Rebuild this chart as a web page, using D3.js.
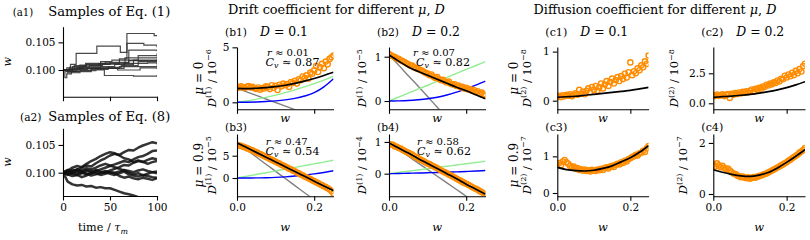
<!DOCTYPE html>
<html><head><meta charset="utf-8">
<script src="https://cdn.jsdelivr.net/npm/d3@7"></script>
<style>body{margin:0;background:#fff} svg{display:block} text{white-space:pre}</style>
</head><body><svg id="c" width="810" height="240"></svg>
<script>
// ---------------- DATA ----------------
// (a1) jump-process samples: [time, w]
const a1S1 = [[0,.1000],[4,.1004],[8,.1010],[14,.1030],[36,.1043],[61,.1032],[68,.1066],[97,.1062],[100,.1062]];
const a1S2 = [[0,.1000],[6,.0998],[14,.1004],[28,.1008],[42,.1011],[60,.1020],[68,.1048],[86,.1045],[100,.1041]];
const a1S3 = [[0,.1000],[10,.1006],[25,.1010],[50,.1013],[70,.1036],[100,.1034]];
const a1S4 = [[0,.1000],[15,.1003],[40,.1006],[55,.1010],[75,.1018],[100,.1020]];
const a1S5 = [[0,.1000],[10,.0997],[30,.1001],[48,.1005],[62,.1008],[80,.1015],[100,.1016]];
const a1S6 = [[0,.1000],[8,.1002],[20,.1005],[38,.1003],[65,.1012],[90,.1013],[100,.1010]];
const a1S7 = [[0,.1000],[5,.0995],[18,.0999],[35,.1000],[44,.0990],[75,.0989],[100,.0991]];
const a1S8 = [[0,.1000],[12,.1008],[24,.1012],[45,.1014],[70,.1017],[100,.1015]];
const a1S9 = [[0,.1000],[2,.0986],[4,.0993],[9,.1000],[30,.1004],[58,.1000],[82,.1004],[100,.1002]];
const a1S10 = [[0,.1000],[7,.1005],[22,.1007],[40,.1015],[52,.1018],[80,.1026],[100,.1030]];
const a1S11 = [[0,.1000],[3,.0997],[16,.1001],[26,.1003],[60,.1006],[100,.1008]];
const a1S12 = [[0,.1000],[6,.1002],[18,.1009],[38,.1011],[66,.1022],[100,.1024]];
const a1Samples = [a1S1,a1S2,a1S3,a1S4,a1S5,a1S6,a1S7,a1S8,a1S9,a1S10,a1S11,a1S12];

// (a2) diffusion samples
const a2Time = [0,5,10,15,20,25,30,35,40,45,50,55,60,65,70,75,80,85,90,95,100];
const a2A = [.1000,.1003,.1001,.1006,.1009,.1013,.1011,.1017,.1022,.1026,.1031,.1034,.1032,.1037,.1041,.1040,.1045,.1049,.1052,.1055,.1053];
const a2B = [.1000,.1004,.1009,.1012,.1010,.1016,.1021,.1025,.1030,.1034,.1037,.1035,.1031,.1026,.1024,.1019,.1022,.1020,.1016,.1019,.1021];
const a2C = [.1000,.0984,.0979,.0977,.0978,.0975,.0976,.0973,.0974,.0972,.0972,.0969,.0966,.0963,.0961,.0959,.0956,.0953,.0951,.0949,.0947];
const a2D = [.1000,.1002,.0998,.0996,.0999,.1003,.1001,.1005,.1002,.1000,.1004,.1007,.1010,.1014,.1013,.1018,.1021,.1019,.1023,.1026,.1024];
const a2E = [.1000,.0997,.0994,.0996,.0992,.0995,.0999,.1002,.1000,.1003,.1001,.1000,.1002,.1005,.1003,.1001,.1004,.1006,.1003,.1001,.1002];
const a2F = [.1000,.1005,.1002,.0999,.1001,.0998,.0995,.0997,.0999,.1001,.0998,.0996,.0999,.1002,.0997,.0995,.0993,.0996,.0994,.0992,.0991];
const a2G = [.1000,.0998,.1002,.1006,.1004,.1008,.1006,.1009,.1013,.1016,.1013,.1010,.1007,.1004,.1000,.0997,.0999,.0995,.0998,.1001,.0999];
const a2H = [.1000,.1001,.1005,.1003,.1000,.0997,.0999,.1003,.1006,.1009,.1012,.1015,.1018,.1021,.1019,.1024,.1028,.1030,.1034,.1039,.1040];
const a2I = [.1000,.0996,.0999,.1004,.1002,.1005,.1003,.0999,.0996,.0998,.1001,.0999,.0994,.0991,.0993,.0990,.0988,.0991,.0989,.0987,.0990];
const a2Samples = [a2A,a2B,a2C,a2D,a2E,a2F,a2G,a2H,a2I];

// w grids
const wPts = [0,.005,.01,.015,.02,.025,.03,.035,.04,.045,.05,.055,.06,.065,.07,.075,.08,.085,.09,.095,.1,.105,.11,.115,.12,.125,.13,.135,.14,.145,.15,.155,.16,.165,.17,.175,.18,.185,.19,.195,.2,.205,.21,.215,.22,.225,.23,.235,.24,.245,.25];
const wCurve = [0,.025,.05,.075,.1,.125,.15,.175,.2,.225,.25];

// (b1) drift, mu=0, D=0.1  [1e-6]
const b1Est = [1.40,1.32,1.45,1.38,1.30,1.42,1.48,1.35,1.40,1.28, 1.22,1.35,1.15,1.30,1.25,1.45,1.38,1.20,1.55,1.32, 1.50,1.12,1.60,1.45,1.70,1.55,1.65,1.40,1.85,1.75, 1.95,1.70,2.10,2.00,2.35,2.20,2.45,2.15,2.70,2.60, 2.90,3.30,2.75,3.20,3.50,3.10,3.70,3.45,3.95,4.10,4.25];
const b1Total = [1.27,1.25,1.28,1.33,1.42,1.55,1.72,1.93,2.17,2.44,2.73];
const b1Green = [0,0.12,0.27,0.45,0.65,0.88,1.13,1.40,1.70,2.02,2.36];
const b1Blue = [0,0.01,0.03,0.07,0.13,0.22,0.36,0.57,0.87,1.40,2.15];
const b1Gray = [1.27,0.95,0.63,0.30,-0.02,-0.34,-0.66,-0.98,-1.31,-1.63,-1.95];
// (b2) drift, mu=0, D=0.2  [1e-5]
const b2Est = [1.06,1.03,1.01,0.99,0.96,0.95,0.92,0.90,0.88,0.85, 0.83,0.80,0.80,0.76,0.74,0.73,0.70,0.69,0.66,0.63, 0.62,0.58,0.60,0.55,0.52,0.54,0.49,0.47,0.48,0.44, 0.42,0.44,0.39,0.37,0.38,0.34,0.35,0.31,0.32,0.28, 0.30,0.26,0.27,0.23,0.25,0.20,0.22,0.17,0.19,0.15,0.12];
const b2Total = [1.04,0.90,0.77,0.67,0.58,0.49,0.40,0.31,0.23,0.14,0.05];
const b2Green = [0,0.089,0.178,0.267,0.356,0.445,0.534,0.623,0.712,0.801,0.89];
const b2Blue = [0,0.004,0.012,0.028,0.05,0.085,0.135,0.2,0.28,0.36,0.45];
const b2Gray = [1.04,0.81,0.57,0.34,0.10,-0.14,-0.37,-0.61,-0.84,-1.08,-1.31];
// (b3) drift, mu=0.9, D=0.1  [1e-5]
const b3Est = [7.45,7.30,7.20,7.05,6.90,6.70,6.55,6.35,6.20,5.95, 5.80,5.55,5.40,5.15,4.95,4.70,4.55,4.25,4.10,3.85, 3.65,3.40,3.25,2.95,2.80,2.55,2.35,2.10,1.95,1.65, 1.50,1.25,1.05,0.80,0.62,0.35,0.18,-0.08,-0.25,-0.52, -0.70,-0.95,-1.15,-1.40,-1.60,-1.85,-2.05,-2.30,-2.60,-2.95,-3.50];
const b3Total = [7.90,6.83,5.75,4.68,3.60,2.53,1.45,0.38,-0.70,-1.78,-2.85];
const b3Green = [0,0.40,0.79,1.19,1.59,1.99,2.38,2.78,3.18,3.57,3.97];
const b3Blue = [0,0.01,0.03,0.07,0.14,0.26,0.44,0.66,0.92,1.25,1.64];
const b3Gray = [7.9,6.3,4.7,3.1,1.5,-0.1,-1.7,-3.3,-4.9,-6.5,-8.1];
// (b4) drift, mu=0.9, D=0.2  [1e-4]
const b4Est = [0.93,0.92,0.91,0.86,0.85,0.81,0.79,0.75,0.72,0.69, 0.66,0.63,0.60,0.55,0.52,0.49,0.45,0.42,0.39,0.35, 0.32,0.30,0.26,0.23,0.20,0.17,0.14,0.10,0.07,0.04, 0.01,-0.03,-0.06,-0.09,-0.12,-0.16,-0.19,-0.22,-0.26,-0.29, -0.32,-0.35,-0.38,-0.42,-0.45,-0.48,-0.51,-0.55,-0.58,-0.62,-0.67];
const b4Total = [0.97,0.81,0.65,0.48,0.32,0.16,0.00,-0.16,-0.33,-0.49,-0.65];
const b4Green = [0,0.039,0.078,0.117,0.156,0.195,0.234,0.273,0.312,0.351,0.39];
const b4Blue = [0,0.006,0.013,0.02,0.028,0.037,0.047,0.058,0.07,0.084,0.1];
const b4Gray = [0.97,0.76,0.55,0.34,0.13,-0.08,-0.29,-0.50,-0.71,-0.92,-1.13];
// (c1) diffusion, mu=0, D=0.1 [1e-8]
const c1Est = [0.08,0.10,0.07,0.11,0.09,0.12,0.10,0.13,0.09,0.12, 0.15,0.12,0.22,0.14,0.18,0.13,0.20,0.25,0.17,0.28, 0.22,0.30,0.20,0.27,0.35,0.25,0.33,0.40,0.30,0.38, 0.45,0.35,0.42,0.48,0.40,0.50,0.44,0.55,0.47,0.58, 0.78,0.52,0.60,0.56,0.66,0.62,0.72,0.68,0.80,0.75,0.92];
const c1Theory = [0.07,0.08,0.09,0.11,0.13,0.15,0.17,0.19,0.21,0.24,0.27];
// (c2) diffusion, mu=0, D=0.2 [1e-8]
const c2Est = [0.65,0.60,0.72,0.62,0.68,0.75,0.60,0.70,0.78,0.45, 0.80,0.72,0.85,0.78,0.90,0.82,0.95,0.88,1.00,0.92, 1.05,1.15,0.98,1.20,1.12,1.30,1.22,1.40,1.35,1.55, 1.48,1.65,1.58,1.75,1.70,1.90,1.82,2.05,2.00,2.30, 2.15,2.40,2.25,2.55,2.35,2.70,2.50,2.85,2.65,3.10,3.30];
const c2Theory = [0.50,0.55,0.60,0.67,0.75,0.85,0.97,1.12,1.30,1.53,1.80];
// (c3) diffusion, mu=0.9, D=0.1 [1e-7]
const c3Est = [0.78,0.82,0.76,0.86,0.90,0.84,0.80,0.74,0.70,0.72, 0.66,0.68,0.63,0.65,0.61,0.64,0.60,0.62,0.59,0.63, 0.61,0.60,0.64,0.62,0.66,0.63,0.68,0.70,0.67,0.72, 0.74,0.71,0.77,0.80,0.78,0.84,0.82,0.88,0.86,0.92, 0.95,0.98,1.00,1.04,1.02,1.08,1.10,1.15,1.12,1.22,1.28];
const c3Theory = [0.70,0.64,0.61,0.60,0.62,0.67,0.74,0.85,0.96,1.11,1.29];
// (c4) diffusion, mu=0.9, D=0.2 [1e-7]
const c4Est = [1.15,1.08,1.20,1.12,1.05,1.10,1.02,0.98,1.00,0.92, 0.85,0.80,0.78,0.72,0.70,0.66,0.68,0.64,0.62,0.65, 0.60,0.63,0.66,0.64,0.68,0.70,0.72,0.75,0.78,0.80, 0.84,0.88,0.92,0.96,1.00,1.04,1.08,1.12,1.16,1.20, 1.24,1.30,1.34,1.40,1.45,1.50,1.55,1.62,1.66,1.72,1.80];
const c4Theory = [0.95,0.85,0.77,0.71,0.69,0.74,0.84,1.02,1.24,1.48,1.74];

// tick labels / annotations
const aYTicks = [0.100, 0.105];
const aXTicks = [0, 50, 100];
const wTicks = [0.0, 0.2];
const annot = {b1:["0.01","0.87"], b2:["0.07","0.82"], b3:["0.47","0.54"], b4:["0.58","0.62"]};

// ---------------- DRAWING ----------------
const FONT = '"DejaVu Serif", serif';
const svg = d3.select('#c');
const ORANGE = '#ff8c00';

function rich(x, y, parts, fs, opts={}) {
  const t = svg.append('text').attr('x',x).attr('y',y).attr('font-family',FONT).attr('font-size',fs).attr('fill','#000');
  if (opts.anchor) t.attr('text-anchor', opts.anchor);
  if (opts.rot) t.attr('transform', `rotate(-90,${x},${y})`);
  let shift = 0;
  parts.forEach(p => {
    const s = t.append('tspan').text(p.t);
    if (p.i) s.attr('font-style','italic');
    let target = 0, size = fs;
    if (p.sup) { target = -0.42*fs; size = 0.7*fs; }
    if (p.sub) { target = 0.25*fs; size = 0.7*fs; }
    s.attr('font-size', size);
    if (target !== shift) { s.attr('dy', target - shift); shift = target; }
  });
  if (opts.width) {
    const L = t.node().getComputedTextLength();
    const k = opts.width / L;
    t.attr('font-size', fs*k);
    t.selectAll('tspan').each(function(){ const el=d3.select(this); el.attr('font-size', +el.attr('font-size')*k); if(el.attr('dy')) el.attr('dy', +el.attr('dy')*k); });
  }
  return t;
}

let clipN = 0;
function makeAxes(o) {
  const x = d3.scaleLinear().domain(o.xd).range([o.l, o.r]);
  const y = d3.scaleLinear().domain(o.yd).range([o.b, o.t]);
  const id = 'clip' + (clipN++);
  svg.append('clipPath').attr('id', id).append('rect')
    .attr('x', o.l).attr('y', o.t).attr('width', o.r - o.l).attr('height', o.b - o.t);
  const g = svg.append('g').attr('clip-path', `url(#${id})`);
  const ax = svg.append('g').attr('transform', `translate(0,${o.b})`)
    .call(d3.axisBottom(x).tickValues(o.xt).tickSize(4.5).tickSizeOuter(0).tickPadding(3)
      .tickFormat(o.xlab ? d3.format(o.xf) : () => ''));
  const ay = svg.append('g').attr('transform', `translate(${o.l},0)`)
    .call(d3.axisLeft(y).tickValues(o.yt).tickSize(4.5).tickSizeOuter(0).tickPadding(3)
      .tickFormat(d3.format(o.yf)));
  [ax, ay].forEach(a => {
    a.selectAll('text').attr('font-family', FONT).attr('font-size', 10.5).attr('fill', '#000');
    a.selectAll('path,line').attr('stroke', '#000').attr('stroke-width', 1.1);
  });
  return {x, y, g};
}

// ---- (a) panels ----
function aPanel(o, draw) {
  const A = makeAxes(Object.assign({xd:[0,100], xt:aXTicks, xf:'d', yt:aYTicks, yf:'.3f'}, o));
  draw(A);
  rich(11.5, (o.t + o.b)/2, [{t:'w', i:true}], 11, {anchor:'middle', rot:true});
}
aPanel({l:63, r:157, t:26.7, b:96.7, yd:[0.09517, 0.10783], xlab:false}, A => {
  const line = d3.line().x(d => A.x(d[0])).y(d => A.y(d[1])).curve(d3.curveStepAfter);
  A.g.selectAll('path.s').data(a1Samples).join('path')
    .attr('d', line).attr('fill','none').attr('stroke','#2a2a2a').attr('stroke-opacity',0.85).attr('stroke-width',1.2);
});
aPanel({l:63, r:157, t:128.3, b:196, yd:[0.0958, 0.1080], xlab:true}, A => {
  const line = d3.line().x((d,i) => A.x(a2Time[i])).y(d => A.y(d));
  A.g.selectAll('path.s').data(a2Samples).join('path')
    .attr('d', line).attr('fill','none').attr('stroke','#111').attr('stroke-opacity',0.85)
    .attr('stroke-width',2.5).attr('stroke-linejoin','round');
});
rich(12.7, 15.5, [{t:'(a1)'}], 10, {width:20.5});
rich(48.3, 15.5, [{t:'Samples of Eq. (1)'}], 11, {width:122});
rich(20, 121, [{t:'(a2)'}], 10, {width:21.5});
rich(48.3, 121, [{t:'Samples of Eq. (8)'}], 11, {width:122});
rich(78, 231, [{t:'time / '},{t:'τ',i:true},{t:'m',i:true,sub:true}], 10, {width:50});

// ---- (b),(c) panels ----
const curveLine = (A, vals) => d3.line().x((d,i) => A.x(wCurve[i])).y(d => A.y(d)).curve(d3.curveMonotoneX)(vals);
function dPanel(o) {
  const A = makeAxes(Object.assign({xd:[0,0.25], xt:wTicks, xf:'.1f'}, o));
  if (o.gray) A.g.append('path').attr('d', curveLine(A, o.gray)).attr('fill','none').attr('stroke','#808080').attr('stroke-width',1.4);
  if (o.green) A.g.append('path').attr('d', curveLine(A, o.green)).attr('fill','none').attr('stroke','#90ee90').attr('stroke-width',1.4);
  if (o.blue) A.g.append('path').attr('d', curveLine(A, o.blue)).attr('fill','none').attr('stroke','#0000ff').attr('stroke-width',1.4);
  A.g.selectAll('circle').data(o.est).join('circle')
    .attr('cx', (d,i) => A.x(wPts[i])).attr('cy', d => A.y(d)).attr('r', 2.6)
    .attr('fill','none').attr('stroke', ORANGE).attr('stroke-width', 1.4);
  A.g.append('path').attr('d', curveLine(A, o.black)).attr('fill','none').attr('stroke','#000').attr('stroke-width',1.7);
  // axis label
  const yc = (o.t + o.b) / 2;
  if (o.mu !== undefined) rich(o.muX, yc, [{t:'μ',i:true},{t:' = ' + o.mu}], 12, {anchor:'middle', rot:true});
  rich(o.dX, yc, [{t:'D',i:true},{t:'(' + o.k + ')',sup:true},{t:' / 10'},{t:'−' + o.exp,sup:true}], 12, {anchor:'middle', rot:true, width:58});
  rich((o.l + o.r)/2, o.xlabY, [{t:'w',i:true}], 11.5, {anchor:'middle'});
  rich(o.l - 12, o.tagY, [{t:'(' + o.tag + ')'}], 10.5, {width:22});
  if (o.Dval) rich(o.l + 23, 35.5, [{t:'D',i:true},{t:' = ' + o.Dval}], 12, {width:48});
  if (o.an) {
    rich(o.anX[0], o.anY[0], [{t:'r',i:true},{t:' ≈ ' + o.an[0]}], 10.5, {anchor:'middle', width:42});
    rich(o.anX[1], o.anY[1], [{t:'C',i:true},{t:'v',i:true,sub:true},{t:' ≈ ' + o.an[1]}], 10.5, {anchor:'middle', width:54});
  }
}
const R1 = {t:47, b:109.3, xlab:false, xlabY:121.5, tagY:35.5};
const R2 = {t:134, b:196.3, xlab:true, xlabY:231, tagY:131};
dPanel(Object.assign({}, R1, {tag:'b1', Dval:'0.1', l:237, r:333.5, yd:[-0.636,5.03], yt:[0,5], yf:'d',
  est:b1Est, black:b1Total, green:b1Green, blue:b1Blue, gray:b1Gray, mu:'0', muX:203, dX:216, k:1, exp:6,
  an:annot.b1, anX:[288,292.5], anY:[55.5,65.5]}));
dPanel(Object.assign({}, R1, {tag:'b2', Dval:'0.2', l:389, r:485.5, yd:[-0.187,1.219], yt:[0,1], yf:'d',
  est:b2Est, black:b2Total, green:b2Green, blue:b2Blue, gray:b2Gray, dX:366.5, k:1, exp:5,
  an:annot.b2, anX:[434,443], anY:[55.5,65.5]}));
dPanel(Object.assign({}, R1, {tag:'c1', Dval:'0.1', l:557.3, r:648.6, yd:[-0.176,1.094], yt:[0,1], yf:'d',
  est:c1Est, black:c1Theory, mu:'0', muX:518.5, dX:531, k:2, exp:8}));
dPanel(Object.assign({}, R1, {tag:'c2', Dval:'0.2', l:713.3, r:805, yd:[-0.5,4.69], yt:[0,2.5], yf:'.1f',
  est:c2Est, black:c2Theory, dX:678.5, k:2, exp:8}));
dPanel(Object.assign({}, R2, {tag:'b3', l:237, r:333.5, yd:[-4.10,9.87], yt:[0,5], yf:'d',
  est:b3Est, black:b3Total, green:b3Green, blue:b3Blue, gray:b3Gray, mu:'0.9', muX:203, dX:216, k:1, exp:5,
  an:annot.b3, anX:[286.7,292.5], anY:[144.5,154.5]}));
dPanel(Object.assign({}, R2, {tag:'b4', l:389, r:485.5, yd:[-0.713,1.25], yt:[0,1], yf:'d',
  est:b4Est, black:b4Total, green:b4Green, blue:b4Blue, gray:b4Gray, dX:366.5, k:1, exp:4,
  an:annot.b4, anX:[438,444], anY:[144.5,154.5]}));
dPanel(Object.assign({}, R2, {tag:'c3', l:557.3, r:648.6, yd:[-0.09,1.61], yt:[0,1], yf:'d',
  est:c3Est, black:c3Theory, mu:'0.9', muX:518.5, dX:531, k:2, exp:7}));
dPanel(Object.assign({}, R2, {tag:'c4', l:713.3, r:805, yd:[-0.09,2.35], yt:[0,2], yf:'d',
  est:c4Est, black:c4Theory, dX:687, k:2, exp:7}));

// group titles
rich(336.5, 14, [{t:'Drift coefficient for different '},{t:'μ',i:true},{t:', '},{t:'D',i:true}], 11, {anchor:'middle', width:217});
rich(655, 14, [{t:'Diffusion coefficient for different '},{t:'μ',i:true},{t:', '},{t:'D',i:true}], 11, {anchor:'middle', width:243});
</script></body></html>
